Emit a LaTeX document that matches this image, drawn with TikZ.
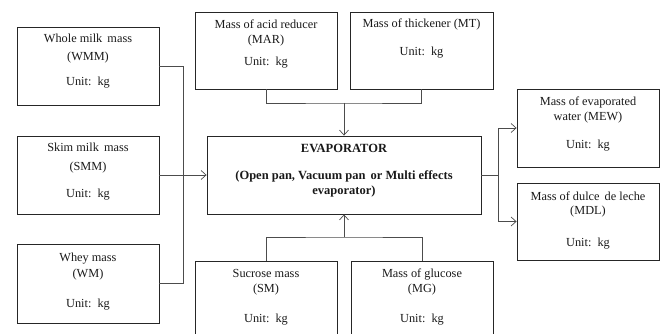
\documentclass[tikz,border=0pt]{standalone}
\usepackage{fontspec}
\setmainfont{Liberation Serif}
\usetikzlibrary{arrows.meta}
\begin{document}
\begin{tikzpicture}[x=1pt,y=-1pt,
  box/.style={draw=black!85, line width=0.8pt, minimum width=142pt, minimum height=78pt, inner sep=0pt},
  txt/.style={anchor=base, inner sep=0pt, font=\fontsize{12.3}{14}\selectfont, text=black!90},
  btxt/.style={txt, font=\fontsize{12.5}{14}\selectfont\bfseries},
  conn/.style={draw=black!70, line width=0.7pt},
  arr/.style={conn, -{Straight Barb[length=5pt,width=9pt]}}]
\useasboundingbox (0,0) rectangle (661,334);
\begin{scope}
\clip (0,0) rectangle (661,334);
% boxes
\node[box] (wmm) at (88,66) {};
\node[box] (smm) at (88,175) {};
\node[box, minimum height=79pt] (wm) at (88,283.5) {};
\node[box, minimum height=77pt] (mar) at (266,50.5) {};
\node[box, minimum height=77pt, minimum width=143pt] (mt) at (421.5,50.5) {};
\node[box, minimum width=274pt] (evap) at (344,175) {};
\node[box] (mew) at (588,128) {};
\node[box, minimum height=77pt] (mdl) at (588,221.5) {};
\node[box, minimum height=100pt] (sm) at (266,311) {};
\node[box, minimum height=100pt] (mg) at (422,311) {};
% texts
\node[txt] (wmm1) at (88,43) {Whole milk\, mass};
\node[txt] (wmm2) at (88,61) {(WMM)};
\node[txt] (wmm3) at (88,86) {Unit:\, kg};
\node[txt] (smm1) at (88,152) {Skim milk\, mass};
\node[txt] (smm2) at (88,170) {(SMM)};
\node[txt] (smm3) at (88,197) {Unit:\, kg};
\node[txt] (wm1) at (88,261) {Whey mass};
\node[txt] (wm2) at (88,277) {(WM)};
\node[txt] (wm3) at (88,307) {Unit:\, kg};
\node[txt] (mar1) at (266,29) {Mass of acid reducer};
\node[txt] (mar2) at (266,44) {(MAR)};
\node[txt] (mar3) at (266,66) {Unit:\, kg};
\node[txt] (mt1) at (421.5,28) {Mass of thickener (MT)};
\node[txt] (mt2) at (421.5,56) {Unit:\, kg};
\node[btxt] (ev1) at (344,152.5) {EVAPORATOR};
\node[btxt] (ev2) at (344,179.5) {(Open pan, Vacuum pan\, or Multi effects};
\node[btxt] (ev3) at (344,194.5) {evaporator)};
\node[txt] (mew1) at (588,106) {Mass of evaporated};
\node[txt] (mew2) at (588,121) {water (MEW)};
\node[txt] (mew3) at (588,149) {Unit:\, kg};
\node[txt] (mdl1) at (588,200) {Mass of dulce\, de leche};
\node[txt] (mdl2) at (588,214) {(MDL)};
\node[txt] (mdl3) at (588,246) {Unit:\, kg};
\node[txt] (sm1) at (266,277) {Sucrose mass};
\node[txt] (sm2) at (266,292) {(SM)};
\node[txt] (sm3) at (266,322) {Unit:\, kg};
\node[txt] (mg1) at (422,277) {Mass of glucose};
\node[txt] (mg2) at (422,292) {(MG)};
\node[txt] (mg3) at (422,322) {Unit:\, kg};
% bus coordinates
\coordinate (lbus) at (183,175);
\coordinate (tbus) at (344,103);
\coordinate (bbus) at (344,237);
\coordinate (rbus) at (498,175);
% connectors
\draw[conn] (wmm.east) -| (lbus);
\draw[conn] (wm.east) -| (lbus);
\draw[arr] (smm.east) -- (evap.west);
\draw[conn] (mar.south) |- (tbus) -| (mt.south);
\draw[arr] (tbus) -- (evap.north);
\draw[conn] (sm.north) |- (bbus) -| (mg.north);
\draw[arr] (bbus) -- (evap.south);
\draw[conn] (evap.east) -- (rbus);
\draw[arr] (rbus) |- (mew.west);
\draw[arr] (rbus) |- (mdl.west);
\end{scope}
\end{tikzpicture}
\end{document}
